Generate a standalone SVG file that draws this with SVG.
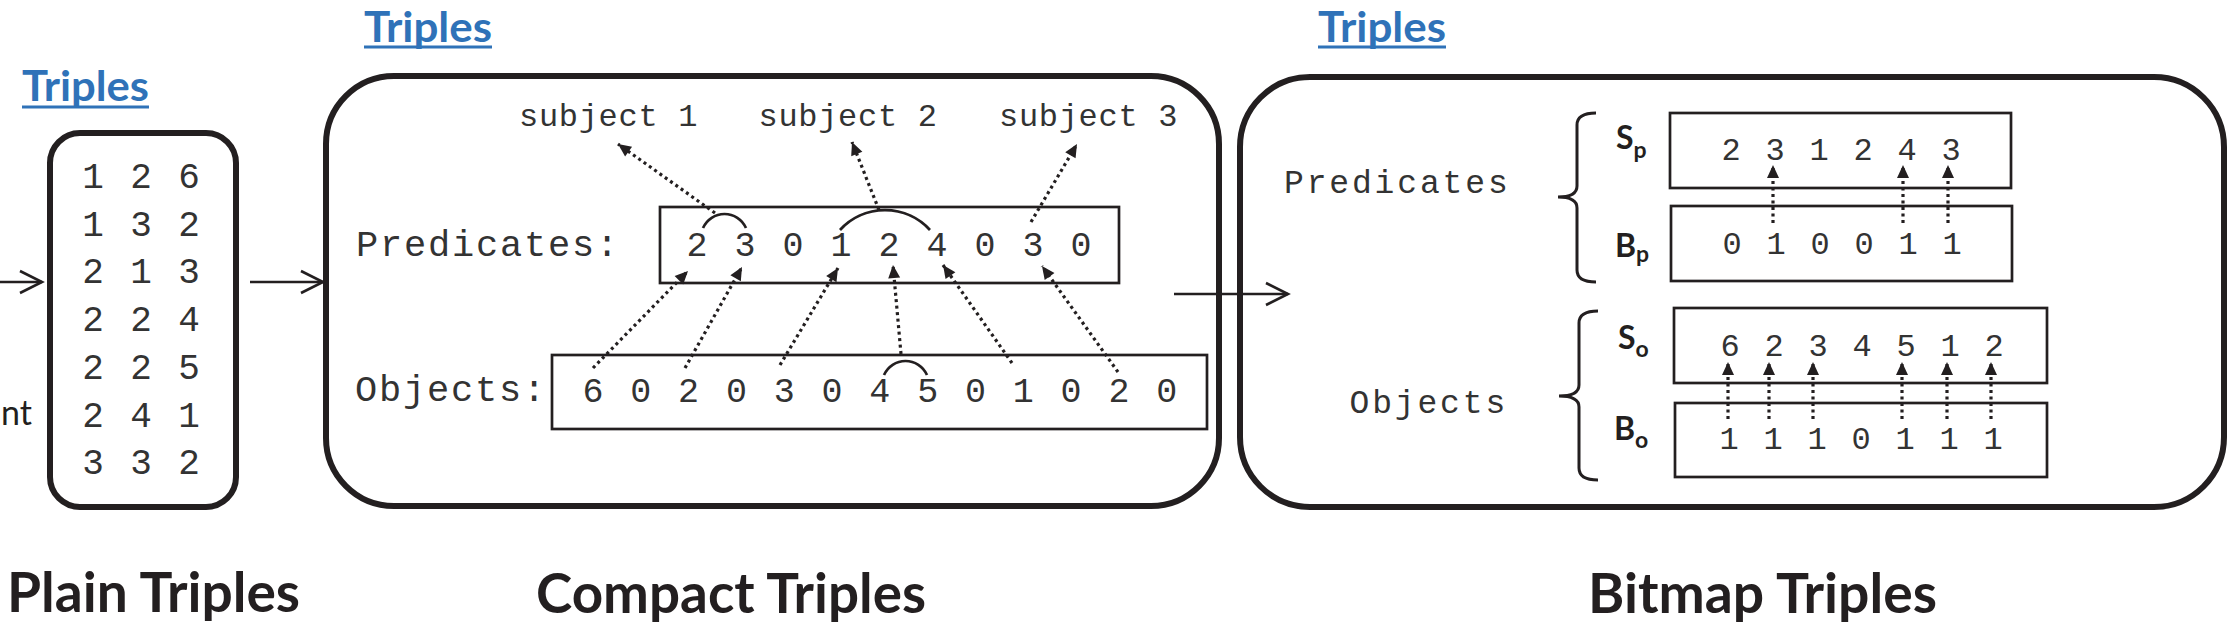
<svg xmlns="http://www.w3.org/2000/svg" width="2240" height="634" viewBox="0 0 2240 634">
  <style>
    .frame { fill: #fff; stroke: #231f20; stroke-width: 6; }
    .box { fill: none; stroke: #231f20; stroke-width: 2.7; }
    .mono { font-family: "Liberation Mono", "DejaVu Sans Mono", monospace; fill: #333; }
    .pd { font-size: 36px; letter-spacing: 2.4px; }
    .cd { font-size: 35px; letter-spacing: 3px; }
    .cl { font-size: 37px; letter-spacing: 1.8px; }
    .bd { font-size: 32px; letter-spacing: 2.8px; }
    .bl { font-size: 33px; letter-spacing: 2.85px; }
    .sub { font-size: 32px; letter-spacing: 0.7px; }
    .lbl { font-family: Lato, "Open Sans", "Liberation Sans", sans-serif; font-weight: bold; fill: #231f20; font-size: 32px; }
    .lbl tspan { font-size: 23px; }
    .blue { font-family: Lato, "Open Sans", "Liberation Sans", sans-serif; font-weight: bold; font-size: 42px; fill: #2f72b8; }
    .uline { stroke: #2f72b8; stroke-width: 3; }
    .title { font-family: Lato, "Open Sans", "Liberation Sans", sans-serif; font-weight: bold; font-size: 56px; fill: #231f20; }
    .flow { fill: none; stroke: #231f20; stroke-width: 2.6; }
    .dot { fill: none; stroke: #231f20; stroke-width: 3.2; stroke-dasharray: 3 3.5; }
    .arc { fill: none; stroke: #231f20; stroke-width: 2.7; }
    .brace { fill: none; stroke: #231f20; stroke-width: 3; }
  </style>
  <defs>
    <marker id="open" markerUnits="userSpaceOnUse" markerWidth="26" markerHeight="26" refX="22" refY="11" orient="auto" overflow="visible">
      <path d="M0,0 L22,11 L0,22" fill="none" stroke="#231f20" stroke-width="2.6"/>
    </marker>
    <marker id="tri" markerUnits="userSpaceOnUse" markerWidth="13" markerHeight="12" refX="13" refY="6" orient="auto" overflow="visible">
      <path d="M0,0 L13,6 L0,12 z" fill="#231f20"/>
    </marker>
  </defs>
  <rect width="2240" height="634" fill="#fff"/>

  <g id="input-fragment">
    <text x="1" y="425" font-family="Lato, 'Open Sans', sans-serif" font-size="34" fill="#231f20">nt</text>
  </g>

  <g id="node-plain">
    <text class="blue" x="22" y="101" textLength="127" lengthAdjust="spacingAndGlyphs">Triples</text>
    <line class="uline" x1="22" y1="107" x2="149" y2="107"/>
    <rect class="frame" x="50" y="133" width="186" height="374" rx="30"/>
    <g class="mono pd">
      <text x="82.2" y="188">1 2 6</text>
      <text x="82.2" y="236">1 3 2</text>
      <text x="82.2" y="283">2 1 3</text>
      <text x="82.2" y="331">2 2 4</text>
      <text x="82.2" y="379">2 2 5</text>
      <text x="82.2" y="427">2 4 1</text>
      <text x="82.2" y="474">3 3 2</text>
    </g>
    <text class="title" x="7" y="612" textLength="293" lengthAdjust="spacingAndGlyphs">Plain Triples</text>
  </g>

  <g id="node-compact">
    <text class="blue" x="364" y="42" textLength="128" lengthAdjust="spacingAndGlyphs">Triples</text>
    <line class="uline" x1="364" y1="47" x2="492" y2="47"/>
    <rect class="frame" x="326" y="76" width="893" height="430" rx="68"/>
    <g class="mono sub">
      <text x="519" y="126">subject 1</text>
      <text x="758.5" y="126">subject 2</text>
      <text x="999" y="126">subject 3</text>
    </g>
    <text class="mono cl" x="356" y="256">Predicates:</text>
    <rect class="box" x="660" y="207" width="459" height="76"/>
    <text class="mono cd" x="686.5" y="256">2 3 0 1 2 4 0 3 0</text>
    <text class="mono cl" x="355" y="401">Objects:</text>
    <rect class="box" x="552" y="355" width="655" height="74"/>
    <text class="mono cd" x="582.5" y="402" style="letter-spacing:2.9px">6 0 2 0 3 0 4 5 0 1 0 2 0</text>
    <path class="arc" d="M703,228 A23.5,23.5 0 0 1 746,228"/>
    <path class="arc" d="M840,230 A61,61 0 0 1 930,230"/>
    <path class="arc" d="M884,375 A23.5,23.5 0 0 1 927,375"/>
    <text class="title" x="536" y="613" textLength="390" lengthAdjust="spacingAndGlyphs">Compact Triples</text>
  </g>

  <g id="node-bitmap">
    <text class="blue" x="1318" y="42" textLength="128" lengthAdjust="spacingAndGlyphs">Triples</text>
    <line class="uline" x1="1318" y1="47" x2="1446" y2="47"/>
    <rect class="frame" x="1240" y="77" width="984" height="430" rx="70"/>
    <text class="mono bl" x="1284" y="193">Predicates</text>
    <text class="mono bl" x="1349.5" y="413">Objects</text>
    <path class="brace" d="M1596,113 Q1577,113 1577,125 L1577,186 Q1577,197 1558,197 Q1577,197 1577,208 L1577,270 Q1577,282 1596,282"/>
    <path class="brace" d="M1598,311 Q1579,311 1579,323 L1579,385 Q1579,396 1559,396 Q1579,396 1579,407 L1579,468 Q1579,480 1598,480"/>
    <text class="lbl" x="1616" y="149">S<tspan dy="9">p</tspan></text>
    <text class="lbl" x="1615" y="257">B<tspan dy="5">p</tspan></text>
    <text class="lbl" x="1618" y="349">S<tspan dy="8">o</tspan></text>
    <text class="lbl" x="1614" y="440">B<tspan dy="8">o</tspan></text>
    <rect class="box" x="1670" y="113" width="341" height="75"/>
    <rect class="box" x="1671" y="206" width="341" height="75"/>
    <rect class="box" x="1674" y="308" width="373" height="75"/>
    <rect class="box" x="1675" y="403" width="372" height="74"/>
    <g class="mono bd">
      <text x="1721.4" y="160">2 3 1 2 4 3</text>
      <text x="1722.4" y="254">0 1 0 0 1 1</text>
      <text x="1720.4" y="356">6 2 3 4 5 1 2</text>
      <text x="1719.4" y="449">1 1 1 0 1 1 1</text>
    </g>
    <text class="title" x="1588" y="613" textLength="349" lengthAdjust="spacingAndGlyphs">Bitmap Triples</text>
  </g>

  <g id="connectors">
    <line class="flow" x1="0" y1="282" x2="42" y2="282" marker-end="url(#open)"/>
    <line class="flow" x1="250" y1="282" x2="323" y2="282" marker-end="url(#open)"/>
    <line class="flow" x1="1174" y1="294" x2="1288" y2="294" marker-end="url(#open)"/>

    <line class="dot" x1="715" y1="213" x2="618" y2="144" marker-end="url(#tri)"/>
    <line class="dot" x1="879" y1="210" x2="852" y2="142" marker-end="url(#tri)"/>
    <line class="dot" x1="1031" y1="222" x2="1077" y2="144" marker-end="url(#tri)"/>

    <line class="dot" x1="593" y1="368" x2="688" y2="271" marker-end="url(#tri)"/>
    <line class="dot" x1="685" y1="368" x2="742" y2="267" marker-end="url(#tri)"/>
    <line class="dot" x1="780" y1="365" x2="838" y2="268" marker-end="url(#tri)"/>
    <line class="dot" x1="901" y1="354" x2="893" y2="265" marker-end="url(#tri)"/>
    <line class="dot" x1="1012" y1="363" x2="943" y2="265" marker-end="url(#tri)"/>
    <line class="dot" x1="1118" y1="372" x2="1042" y2="266" marker-end="url(#tri)"/>

    <line class="dot" x1="1773" y1="223" x2="1773" y2="165" marker-end="url(#tri)"/>
    <line class="dot" x1="1903" y1="223" x2="1903" y2="165" marker-end="url(#tri)"/>
    <line class="dot" x1="1948" y1="223" x2="1948" y2="165" marker-end="url(#tri)"/>

    <line class="dot" x1="1728" y1="419" x2="1728" y2="362" marker-end="url(#tri)"/>
    <line class="dot" x1="1769" y1="419" x2="1769" y2="362" marker-end="url(#tri)"/>
    <line class="dot" x1="1813" y1="419" x2="1813" y2="362" marker-end="url(#tri)"/>
    <line class="dot" x1="1902" y1="419" x2="1902" y2="362" marker-end="url(#tri)"/>
    <line class="dot" x1="1947" y1="419" x2="1947" y2="362" marker-end="url(#tri)"/>
    <line class="dot" x1="1991" y1="419" x2="1991" y2="362" marker-end="url(#tri)"/>
  </g>
</svg>
